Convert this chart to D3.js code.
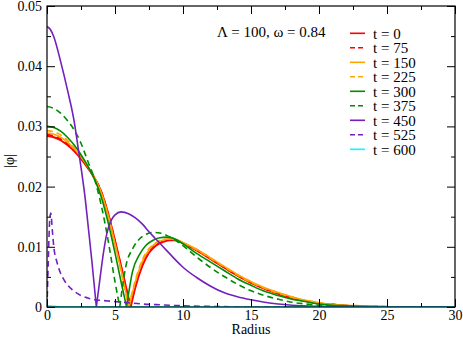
<!DOCTYPE html>
<html>
<head>
<meta charset="utf-8">
<script src="https://cdn.jsdelivr.net/npm/d3@7"></script>
<style>
  body { margin: 0; background: #fff; }
</style>
</head>
<body>
<div id="chart"></div>
<script>
// |phi| profiles, one [radius, value] list per snapshot time
var times = [0, 75, 150, 225, 300, 375, 450, 525, 600];

var phiT0 = [[0,0.0284],[0.5,0.0282],[1,0.0277],[1.5,0.0269],[2,0.0259],[2.5,0.0246],[3,0.0231],[3.5,0.0214],[4,0.0191],[4.5,0.0155],[5,0.0110],[5.5,0.0063],[5.9,0.0024],[6.15,0],[6.5,0.0033],[7,0.0068],[7.5,0.0090],[8,0.0102],[8.5,0.0108],[9,0.0111],[9.5,0.0111],[10,0.0106],[11,0.0094],[12,0.0080],[13,0.0066],[14,0.0052],[15,0.0040],[16,0.0030],[17,0.0022],[18,0.0015],[19,0.0010],[20,0.0006],[21,0.0004],[22,0.0002],[24,0.00008],[26,0],[30,0]];
var phiT75 = [[0,0.0286],[0.5,0.0284],[1,0.0279],[1.5,0.0271],[2,0.0260],[2.5,0.0247],[3,0.0232],[3.5,0.0214],[4,0.0190],[4.5,0.0154],[5,0.0109],[5.5,0.0061],[5.9,0.0022],[6.12,0],[6.5,0.0036],[7,0.0070],[7.5,0.0091],[8,0.0103],[8.5,0.0109],[9,0.0112],[9.5,0.0111],[10,0.0106],[11,0.0095],[12,0.0081],[13,0.0066],[14,0.0053],[15,0.0041],[16,0.0031],[17,0.0023],[18,0.0016],[19,0.0010],[20,0.0006],[21,0.0004],[22,0.0002],[24,0.00008],[26,0],[30,0]];
var phiT150 = [[0,0.0289],[0.5,0.0287],[1,0.0282],[1.5,0.0274],[2,0.0263],[2.5,0.0249],[3,0.0233],[3.5,0.0214],[4,0.0189],[4.5,0.0152],[5,0.0105],[5.5,0.0056],[5.8,0.0024],[6.03,0],[6.5,0.0042],[7,0.0075],[7.5,0.0095],[8,0.0106],[8.5,0.0111],[9,0.0113],[9.5,0.0112],[10,0.0107],[11,0.0096],[12,0.0082],[13,0.0068],[14,0.0054],[15,0.0042],[16,0.0032],[17,0.0024],[18,0.0017],[19,0.0011],[20,0.0007],[21,0.0004],[22,0.0003],[24,0.0001],[26,0],[30,0]];
var phiT225 = [[0,0.0293],[0.5,0.0291],[1,0.0286],[1.5,0.0277],[2,0.0265],[2.5,0.0251],[3,0.0234],[3.5,0.0214],[4,0.0188],[4.5,0.0150],[5,0.0103],[5.5,0.0053],[5.8,0.0021],[6.0,0],[6.5,0.0045],[7,0.0078],[7.5,0.0097],[8,0.0107],[8.5,0.0112],[9,0.0113],[9.5,0.0111],[10,0.0106],[11,0.0095],[12,0.0081],[13,0.0067],[14,0.0053],[15,0.0041],[16,0.0031],[17,0.0023],[18,0.0016],[19,0.0011],[20,0.0007],[21,0.0004],[22,0.0002],[24,0.0001],[26,0],[30,0]];
var phiT300 = [[0,0.0300],[0.5,0.0298],[1,0.0292],[1.5,0.0282],[2,0.0269],[2.5,0.0253],[3,0.0234],[3.5,0.0212],[4,0.0182],[4.5,0.0140],[5,0.0090],[5.5,0.0036],[5.85,0],[6.3,0.0060],[6.8,0.0087],[7.3,0.0103],[7.8,0.0111],[8.3,0.0115],[8.8,0.0116],[9.3,0.0114],[10,0.0105],[11,0.0089],[12,0.0075],[13,0.0061],[14,0.0047],[15,0.0036],[16,0.0026],[17,0.0019],[18,0.0013],[19,0.0009],[20,0.0005],[21,0.0003],[22,0.0002],[24,0.00005],[26,0],[30,0]];
var phiT375 = [[0,0.0333],[0.5,0.0330],[1,0.0322],[1.5,0.0310],[2,0.0294],[2.5,0.0272],[3,0.0242],[3.5,0.0212],[4,0.0168],[4.5,0.0110],[5,0.0042],[5.35,0],[5.8,0.0068],[6.3,0.0097],[6.8,0.0113],[7.3,0.0121],[7.8,0.0124],[8.3,0.0123],[8.8,0.0119],[9.5,0.0110],[10,0.0102],[11,0.0083],[12,0.0066],[13,0.0051],[14,0.0038],[15,0.0027],[16,0.0019],[17,0.0013],[18,0.0008],[19,0.0005],[20,0.0003],[22,0.0001],[24,0.00003],[26,0],[30,0]];
var phiT450 = [[0,0.0466],[0.25,0.0461],[0.5,0.0449],[1,0.0408],[1.5,0.0361],[2,0.0308],[2.33,0.0258],[2.5,0.0232],[2.82,0.0178],[3,0.0140],[3.3,0.0076],[3.63,0],[3.9,0.0048],[4.15,0.0090],[4.4,0.0122],[4.7,0.0143],[5,0.0153],[5.45,0.0158],[6,0.0155],[6.5,0.0148],[7,0.0138],[7.5,0.0125],[8,0.0113],[8.5,0.0101],[9,0.0089],[9.5,0.0077],[10,0.0066],[11,0.0049],[12,0.0035],[13,0.0024],[14,0.0017],[15,0.0012],[16,0.0008],[17,0.0005],[18,0.0003],[20,0.0001],[22,0],[30,0]];
var phiT525 = [[0,0],[0.1,0.0080],[0.2,0.0145],[0.28,0.0156],[0.4,0.0125],[0.5,0.0100],[0.75,0.0073],[1,0.0056],[1.25,0.0045],[1.5,0.0037],[2,0.0026],[2.5,0.0019],[3,0.0015],[3.5,0.0012],[4,0.0011],[5,0.0009],[6,0.0007],[7,0.0005],[8,0.0004],[9,0.0003],[10,0.0002],[12,0.0001],[15,0],[30,0]];
var phiT600 = [[0,0.0002],[0.5,0.0001],[1,0],[30,0]];

var profiles = [phiT0, phiT75, phiT150, phiT225, phiT300, phiT375, phiT450, phiT525, phiT600];

var xTicks = [0, 5, 10, 15, 20, 25, 30];
var xMinorTicks = [2.5, 7.5, 12.5, 17.5, 22.5, 27.5];
var yTicks = [0, 0.01, 0.02, 0.03, 0.04, 0.05];
var yTickLabels = ["0", "0.01", "0.02", "0.03", "0.04", "0.05"];
var yMinorTicks = [0.005, 0.015, 0.025, 0.035, 0.045];

var colors = ["#ff0000", "#ff0000", "#ffa500", "#ffa500", "#008b00", "#008b00", "#7221bc", "#7221bc", "#00ffff"];
var dashed = [false, true, false, true, false, true, false, true, false];

var FONT = "'Liberation Serif'";

var W = 463, H = 337;
var plot = { left: 47, right: 455, top: 6, bottom: 307 };

var x = d3.scaleLinear().domain([0, 30]).range([plot.left, plot.right]);
var y = d3.scaleLinear().domain([0, 0.05]).range([plot.bottom, plot.top]);

var svg = d3.select("#chart").append("svg")
    .attr("width", W)
    .attr("height", H);

svg.append("defs").append("clipPath").attr("id", "clip")
  .append("rect")
    .attr("x", plot.left).attr("y", plot.top)
    .attr("width", plot.right - plot.left).attr("height", plot.bottom - plot.top);

var line = d3.line()
    .x(function(d) { return x(d[0]); })
    .y(function(d) { return y(d[1]); })
    .curve(d3.curveMonotoneX);

// break each profile at its node (|phi| = 0) so the cusp stays sharp
function pieces(data) {
  var out = [], cur = [];
  data.forEach(function(d, i) {
    cur.push(d);
    if (d[1] === 0 && i > 0 && i < data.length - 1 && data[i-1][1] > 0 && data[i+1][1] > 0) {
      out.push(cur);
      cur = [d];
    }
  });
  out.push(cur);
  return out;
}

var curves = svg.append("g").attr("clip-path", "url(#clip)");
profiles.forEach(function(data, i) {
  curves.append("path")
    .attr("d", pieces(data).map(line).join(""))
    .attr("fill", "none")
    .attr("stroke", colors[i])
    .attr("stroke-width", i < 2 ? 2 : 1.6)
    .attr("stroke-dasharray", dashed[i] ? "6,4" : null);
});

// axes: ticks point inward on all four sides
function styleAxis(g) {
  g.attr("font-family", null).attr("font-size", null);
  g.select(".domain").remove();
  g.selectAll("line").attr("stroke", "#000");
  g.selectAll("text").attr("fill", "#000")
    .style("font-family", FONT).style("font-size", "14px");
}

svg.append("g").attr("transform", "translate(0," + plot.bottom + ")")
  .call(d3.axisBottom(x).tickValues(xTicks).tickSize(-8).tickPadding(3).tickFormat(d3.format("d")))
  .call(styleAxis);
svg.append("g").attr("transform", "translate(0," + plot.bottom + ")")
  .call(d3.axisBottom(x).tickValues(xMinorTicks).tickSize(-4).tickFormat(""))
  .call(styleAxis);
svg.append("g").attr("transform", "translate(0," + plot.top + ")")
  .call(d3.axisTop(x).tickValues(xTicks).tickSize(-8).tickFormat(""))
  .call(styleAxis);
svg.append("g").attr("transform", "translate(0," + plot.top + ")")
  .call(d3.axisTop(x).tickValues(xMinorTicks).tickSize(-4).tickFormat(""))
  .call(styleAxis);

svg.append("g").attr("transform", "translate(" + plot.left + ",0)")
  .call(d3.axisLeft(y).tickValues(yTicks).tickSize(-8).tickPadding(5)
    .tickFormat(function(d, i) { return yTickLabels[i]; }))
  .call(styleAxis);
svg.append("g").attr("transform", "translate(" + plot.left + ",0)")
  .call(d3.axisLeft(y).tickValues(yMinorTicks).tickSize(-4).tickFormat(""))
  .call(styleAxis);
svg.append("g").attr("transform", "translate(" + plot.right + ",0)")
  .call(d3.axisRight(y).tickValues(yTicks).tickSize(-8).tickFormat(""))
  .call(styleAxis);
svg.append("g").attr("transform", "translate(" + plot.right + ",0)")
  .call(d3.axisRight(y).tickValues(yMinorTicks).tickSize(-4).tickFormat(""))
  .call(styleAxis);

svg.append("rect")
    .attr("x", plot.left).attr("y", plot.top)
    .attr("width", plot.right - plot.left).attr("height", plot.bottom - plot.top)
    .attr("fill", "none").attr("stroke", "#000").attr("stroke-width", 1.2);

// axis titles
svg.append("text")
    .attr("x", (plot.left + plot.right) / 2).attr("y", 334)
    .attr("text-anchor", "middle")
    .style("font-family", FONT).style("font-size", "14px")
    .text("Radius");
svg.append("text")
    .attr("transform", "translate(14," + 161 + ") rotate(-90)")
    .attr("text-anchor", "middle")
    .style("font-family", FONT).style("font-size", "14px")
    .text("|\u03c6|");

svg.append("text")
    .attr("x", 217).attr("y", 37)
    .style("font-family", FONT).style("font-size", "15px")
    .text("\u039b = 100, \u03c9 = 0.84");

// legend
var legend = svg.append("g");
times.forEach(function(t, i) {
  var ly = 33.3 + i * 14.5;
  legend.append("line")
    .attr("x1", 350).attr("x2", 365).attr("y1", ly).attr("y2", ly)
    .attr("stroke", colors[i]).attr("stroke-width", 1.6)
    .attr("stroke-dasharray", dashed[i] ? "5,3" : null);
  legend.append("text")
    .attr("x", 373).attr("y", ly).attr("dy", "0.35em")
    .style("font-family", FONT).style("font-size", "15px")
    .text("t = " + t);
});
</script>
</body>
</html>
